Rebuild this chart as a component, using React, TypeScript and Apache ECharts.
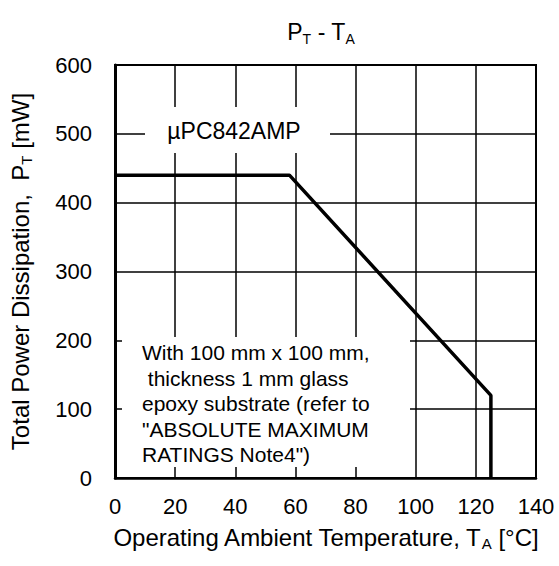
import React, { useEffect, useRef } from "react";
import * as echarts from "echarts";

const curveTemp = [0, 58, 125, 125];
const curvePower = [440, 440, 120, 0];
const xTicks = { min: 0, max: 140, interval: 20 };
const yTicks = { min: 0, max: 600, interval: 100 };
const deviceLabel = "µPC842AMP";
const noteLines = [
  "With 100 mm x 100 mm,",
  " thickness 1 mm glass",
  "epoxy substrate (refer to",
  "\"ABSOLUTE MAXIMUM",
  "RATINGS Note4\")",
];

const FONT = "'Liberation Sans', Arial, Helvetica, sans-serif";

export default function App() {
  const ref = useRef<HTMLDivElement>(null);
  useEffect(() => {
    if (!ref.current) return;
    const chart = echarts.init(ref.current, undefined, { renderer: "svg" });
    const sub = {
      a: { fontSize: 24, lineHeight: 28, color: "#000", fontFamily: FONT, fontWeight: "normal" as const },
      s: { fontSize: 15, lineHeight: 15, color: "#000", fontFamily: FONT, fontWeight: "normal" as const, verticalAlign: "bottom" as const },
    };
    const subTitle = {
      a: { ...sub.a, fontSize: 23 },
      s: { ...sub.s, fontSize: 14, lineHeight: 14 },
    };
    chart.setOption({
      animation: false,
      backgroundColor: "#fff",
      textStyle: { fontFamily: FONT, color: "#000" },
      title: {
        text: "{a|P}{s|T}{a| - T}{s|A}",
        left: 316,
        top: 13,
        textAlign: "center",
        textStyle: { rich: subTitle, fontWeight: "normal", color: "#000" },
      },
      grid: {
        left: 103,
        right: 23,
        top: 65,
        bottom: 88,
        show: true,
        borderColor: "#000",
        borderWidth: 2,
        backgroundColor: "transparent",
      },
      xAxis: {
        type: "value",
        min: xTicks.min,
        max: xTicks.max,
        interval: xTicks.interval,
        name: "{a|Operating Ambient Temperature, T}{s|A}{a| [°C]}",
        nameLocation: "middle",
        nameGap: 45,
        nameTextStyle: { rich: sub, color: "#000" },
        axisLine: { show: true, onZero: false, lineStyle: { color: "#000", width: 2.5 } },
        axisTick: { show: false },
        axisLabel: { color: "#000", fontSize: 22, fontFamily: FONT, margin: 17 },
        splitLine: { show: true, lineStyle: { color: "#000", width: 1.5 } },
      },
      yAxis: {
        type: "value",
        min: yTicks.min,
        max: yTicks.max,
        interval: yTicks.interval,
        name: "{a|Total Power Dissipation,  P}{s|T}{a| [mW]}",
        nameLocation: "middle",
        nameGap: 81,
        nameRotate: 90,
        nameTextStyle: { rich: sub, color: "#000" },
        axisLine: { show: true, lineStyle: { color: "#000", width: 3 } },
        axisTick: { show: false },
        axisLabel: { color: "#000", fontSize: 22, fontFamily: FONT, margin: 23 },
        splitLine: { show: true, lineStyle: { color: "#000", width: 1.5 } },
      },
      series: [
        {
          type: "line",
          data: curveTemp.map((t, i) => [t, curvePower[i]]),
          symbol: "none",
          lineStyle: { color: "#000", width: 3.5 },
          z: 3,
        },
      ],
      graphic: [
        {
          type: "rect",
          shape: { x: 145, y: 107, width: 185, height: 46 },
          style: { fill: "#fff" },
          z: 10,
        },
        {
          type: "text",
          x: 234,
          y: 131,
          style: {
            text: deviceLabel,
            fontSize: 23,
            fontFamily: FONT,
            fill: "#000",
            align: "center",
            verticalAlign: "middle",
          },
          z: 11,
        },
        {
          type: "rect",
          shape: { x: 122, y: 337, width: 288, height: 130 },
          style: { fill: "#fff" },
          z: 10,
        },
        {
          type: "text",
          x: 142,
          y: 340,
          style: {
            text: noteLines.join("\n"),
            fontSize: 21,
            lineHeight: 25.5,
            fontFamily: FONT,
            fill: "#000",
            align: "left",
            verticalAlign: "top",
          },
          z: 11,
        },
      ],
    });
    return () => chart.dispose();
  }, []);
  return (
    <div
      ref={ref}
      style={{ position: "absolute", left: 0, top: 0, width: 559, height: 566 }}
    />
  );
}
